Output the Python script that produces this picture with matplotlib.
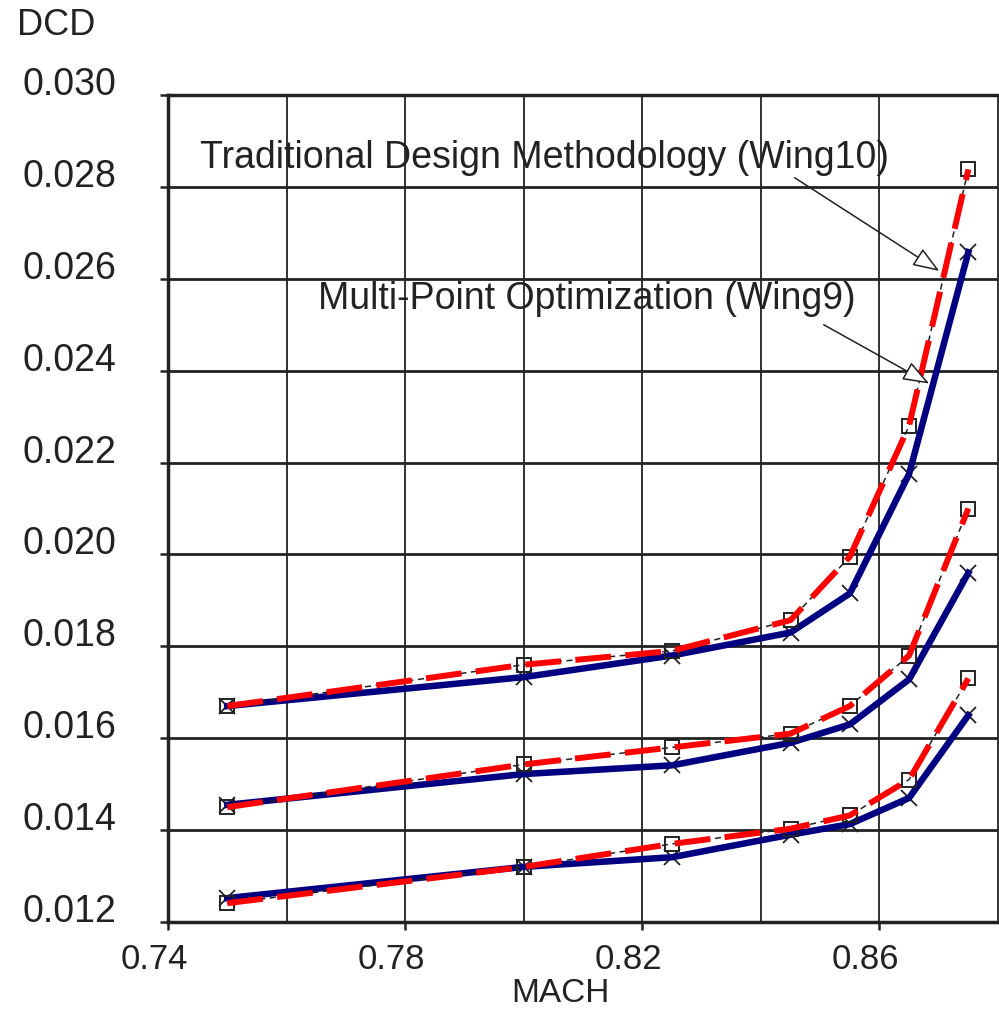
import matplotlib.pyplot as plt
from matplotlib.ticker import FixedLocator
from matplotlib.transforms import ScaledTranslation

plt.rcParams['font.family'] = ['Liberation Sans', 'DejaVu Sans']

mach = [0.75, 0.80, 0.825, 0.845, 0.855, 0.865, 0.875]

# Multi-Point Optimization (Wing9) - blue, x markers
wing9_top = [0.0167, 0.01733, 0.0178, 0.0183, 0.01915, 0.02175, 0.02658]
wing9_mid = [0.01455, 0.01522, 0.01541, 0.0159, 0.0163, 0.01728, 0.0196]
wing9_low = [0.01252, 0.0132, 0.01341, 0.0139, 0.01413, 0.0147, 0.0165]

# Traditional Design Methodology (Wing10) - red dashed, square markers
wing10_top = [0.0167, 0.0176, 0.0179, 0.01857, 0.01995, 0.0228, 0.02838]
wing10_mid = [0.0145, 0.01543, 0.0158, 0.0161, 0.0167, 0.0178, 0.0210]
wing10_low = [0.01241, 0.0132, 0.0137, 0.01403, 0.01432, 0.0151, 0.0173]

x_ticks = [0.74, 0.78, 0.82, 0.86]
y_ticks = [0.012, 0.014, 0.016, 0.018, 0.020, 0.022, 0.024, 0.026, 0.028, 0.030]

fig = plt.figure(figsize=(9.99, 10.10), dpi=100)
ax = fig.add_axes([168 / 999, 1 - 922 / 1010, (998 - 168) / 999, (922 - 95) / 1010])

ax.set_xlim(0.74, 0.88)
ax.set_ylim(0.012, 0.030)

# grid
for gx in [0.76, 0.78, 0.80, 0.82, 0.84, 0.86]:
    ax.axvline(gx, color='#222222', lw=1.3, zorder=1)
for gy in y_ticks[1:-1]:
    ax.axhline(gy, color='#222222', lw=2.0, zorder=1)

for w9, w10 in [(wing9_top, wing10_top), (wing9_mid, wing10_mid),
                (wing9_low, wing10_low)]:
    ax.plot(mach, w9, color='#222222', lw=1, marker='x', ms=11, mew=1.3,
            zorder=2)
    ax.plot(mach, w9, color='#000080', lw=4.7, zorder=3)
    ax.plot(mach, w10, color='#222222', lw=1.1, ls=(0, (4, 3)), marker='s',
            ms=10, mfc='none', mec='#222222', mew=1.4, zorder=4)
    ax.plot(mach, w10, color='#ff0000', lw=4.3, ls=(0, (6, 2.4)), zorder=5)

ax.xaxis.set_major_locator(FixedLocator(x_ticks))
ax.yaxis.set_major_locator(FixedLocator(y_ticks))
ax.set_xticklabels(['0.74', '0.78', '0.82', '0.86'])
ax.set_yticklabels(['%.3f' % v for v in y_ticks])
ax.tick_params(axis='both', direction='out', length=6, width=1.8,
               color='#222222', labelcolor='#222222')
ax.tick_params(axis='x', labelsize=25, pad=9)
ax.tick_params(axis='y', labelsize=27, pad=31)

# labels in the original sit a bit off their ticks
shift_x = ScaledTranslation(-14 / 100, 0, fig.dpi_scale_trans)
for lab in ax.get_xticklabels():
    lab.set_transform(lab.get_transform() + shift_x)
for lab in ax.get_yticklabels():
    lab.set_va('baseline')

for side in ['left', 'bottom', 'top']:
    ax.spines[side].set_linewidth(2.5)
    ax.spines[side].set_color('#222222')
ax.spines['right'].set_linewidth(1.3)
ax.spines['right'].set_color('#222222')

fig.text(17 / 999, 1 - 8 / 1010, 'DCD', fontsize=26, va='top', ha='left',
         color='#222222')
fig.text(560 / 999, 1 - 978 / 1010, 'MACH', fontsize=24, va='top',
         ha='center', color='#222222')

ax.text(0.7454, 0.02863, 'Traditional Design Methodology (Wing10)',
        fontsize=27, va='center', ha='left', color='#222222')
ax.text(0.7653, 0.02556, 'Multi-Point Optimization (Wing9)',
        fontsize=27, va='center', ha='left', color='#222222')

arrow = dict(arrowstyle='-|>,head_length=0.75,head_width=0.28',
             mutation_scale=22, fc='white', ec='#222222', lw=1.1,
             shrinkA=0, shrinkB=0)
ax.annotate('', xy=(0.8701, 0.02617), xytext=(0.8457, 0.0282),
            arrowprops=arrow, zorder=6)
ax.annotate('', xy=(0.8684, 0.02372), xytext=(0.8506, 0.0250),
            arrowprops=arrow, zorder=6)

plt.savefig('out.png', dpi=100)
